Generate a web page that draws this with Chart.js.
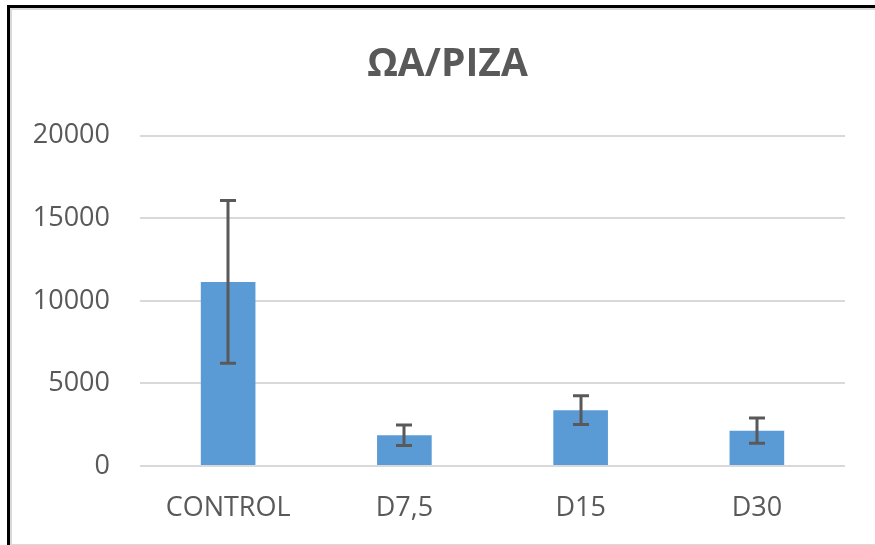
<!DOCTYPE html>
<html>
<head>
<meta charset="utf-8">
<script src="https://cdn.jsdelivr.net/npm/chart.js@4/dist/chart.umd.min.js"></script>
<style>
    body { margin: 0; background: #fff; }
    #wrap { position: relative; width: 875px; height: 545px; overflow: hidden; }
    #grafico { position: absolute; left: 0; top: 0; }
    #borda-externa { position: absolute; left: 7px; top: 5px; width: 900px; height: 600px;
        border-left: 3px solid #000; border-top: 3px solid #000; pointer-events: none; }
    #borda-interna { position: absolute; left: 10px; top: 8px; width: 900px; height: 534px;
        border: 2px solid #d9d9d9; pointer-events: none; }
</style>
</head>
<body>
<div id="wrap">
    <!-- o canvas passa um pouco da janela para o título ficar centrado como no original -->
    <canvas id="grafico" width="895" height="545"></canvas>
    <div id="borda-interna"></div>
    <div id="borda-externa"></div>
</div>
<script>
// Dados do gráfico
const categorias = ['CONTROL', 'D7,5', 'D15', 'D30'];
const valores = [11150, 1860, 3380, 2140];
const erros = [4930, 620, 870, 760];
const ticksY = [0, 5000, 10000, 15000, 20000];

const corBarra = '#5b9bd5';
const corTexto = '#595959';
const corGrade = '#d9d9d9';

// Plugin simples para desenhar as barras de erro
const pluginErros = {
    id: 'barrasErro',
    afterDatasetsDraw(chart) {
        const ctx = chart.ctx;
        const escalaY = chart.scales.y;
        const meta = chart.getDatasetMeta(0);
        ctx.save();
        ctx.strokeStyle = corTexto;
        ctx.lineWidth = 3;
        meta.data.forEach((barra, i) => {
            const x = Math.round(barra.x);
            const yTopo = escalaY.getPixelForValue(valores[i] + erros[i]);
            const yBase = escalaY.getPixelForValue(valores[i] - erros[i]);
            ctx.beginPath();
            ctx.moveTo(x, yTopo);
            ctx.lineTo(x, yBase);
            ctx.moveTo(x - 8, yTopo);
            ctx.lineTo(x + 8, yTopo);
            ctx.moveTo(x - 8, yBase);
            ctx.lineTo(x + 8, yBase);
            ctx.stroke();
        });
        ctx.restore();
    }
};

Chart.defaults.font.family = "'Open Sans', sans-serif";
Chart.defaults.color = corTexto;

new Chart(document.getElementById('grafico').getContext('2d'), {
    type: 'bar',
    data: {
        labels: categorias,
        datasets: [{
            data: valores,
            backgroundColor: corBarra,
            borderWidth: 0,
            categoryPercentage: 1,
            barPercentage: 0.31
        }]
    },
    options: {
        responsive: false,
        animation: false,
        layout: { padding: 0 },
        scales: {
            x: {
                grid: { display: false },
                border: { display: false },
                ticks: { font: { size: 27 }, padding: 18, color: corTexto },
                afterFit: function(escala) { escala.height = 79; }
            },
            y: {
                min: 0,
                max: 20000,
                afterBuildTicks: function(escala) {
                    escala.ticks = ticksY.map(v => ({ value: v }));
                },
                grid: { color: corGrade, lineWidth: 2, drawTicks: false },
                border: { display: false },
                ticks: {
                    font: { size: 27 },
                    padding: 30,
                    color: corTexto,
                    callback: v => String(v)
                },
                afterFit: function(escala) { escala.width = 140; }
            },
            // eixo vazio só para reservar a margem da direita
            margemDireita: {
                type: 'linear',
                position: 'right',
                grid: { display: false },
                border: { display: false },
                ticks: { display: false },
                afterFit: function(escala) { escala.width = 50; }
            }
        },
        plugins: {
            legend: { display: false },
            tooltip: { enabled: false },
            title: {
                display: true,
                text: 'ΩΑ/PIZA',
                color: corTexto,
                font: { size: 39, weight: 'bold', lineHeight: 1.2 },
                padding: { top: 41, bottom: 48 }
            }
        }
    },
    plugins: [pluginErros]
});
</script>
</body>
</html>
